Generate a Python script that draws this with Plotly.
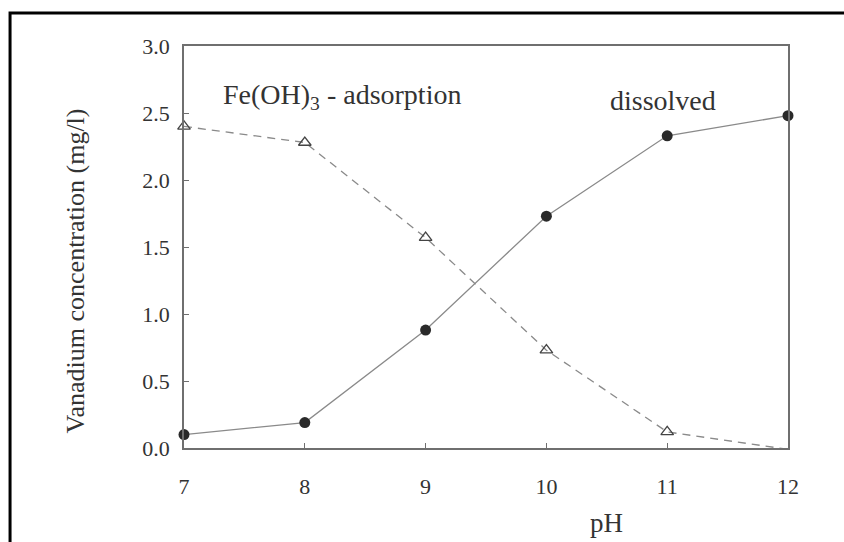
import plotly.graph_objects as go

ph = [7, 8, 9, 10, 11, 12]
dissolved = [0.10, 0.19, 0.88, 1.73, 2.33, 2.48]
adsorption = [2.40, 2.28, 1.57, 0.73, 0.12, -0.01]
x_ticks = [7, 8, 9, 10, 11, 12]
y_ticks = [0.0, 0.5, 1.0, 1.5, 2.0, 2.5, 3.0]
y_ticklabels = ["0.0", "0.5", "1.0", "1.5", "2.0", "2.5", "3.0"]

FONT = "Liberation Serif"
AX = "#6f6f6f"

fig = go.Figure()
fig.add_trace(go.Scatter(
    x=ph, y=adsorption, mode="lines+markers", name="Fe(OH)3 - adsorption",
    line=dict(color="#8a8a8a", width=1.3, dash="8px,6px"),
    marker=dict(symbol="triangle-up-open", size=11, color="#444444",
                line=dict(width=1.3, color="#444444")),
    cliponaxis=False,
))
fig.add_trace(go.Scatter(
    x=ph, y=dissolved, mode="lines+markers", name="dissolved",
    line=dict(color="#8a8a8a", width=1.3),
    marker=dict(symbol="circle", size=11, color="#2a2a2a"),
    cliponaxis=False,
))

fig.update_layout(
    width=844, height=542,
    margin=dict(l=184, r=56, t=46, b=94),
    paper_bgcolor="white", plot_bgcolor="white",
    showlegend=False,
    font=dict(family=FONT, color="#3a3a3a"),
    xaxis=dict(
        range=[7, 12], tickvals=x_ticks, ticktext=[str(v) for v in x_ticks],
        showgrid=False, zeroline=False,
        showline=True, linecolor=AX, linewidth=1.5, mirror=True,
        ticks="inside", ticklen=5, tickcolor=AX, tickwidth=1,
        tickfont=dict(family=FONT, size=22, color="#333333"),
        ticklabelstandoff=18,
    ),
    yaxis=dict(
        range=[0, 3.0], tickvals=y_ticks, ticktext=y_ticklabels,
        showgrid=False, zeroline=False,
        showline=True, linecolor=AX, linewidth=1.5, mirror=True,
        ticks="inside", ticklen=5, tickcolor=AX, tickwidth=1,
        tickfont=dict(family=FONT, size=22, color="#333333"),
        ticklabelstandoff=8,
    ),
    annotations=[
        dict(text="Fe(OH)<sub>3</sub> - adsorption", x=7.31, y=2.62,
             xref="x", yref="y", xanchor="left", yanchor="middle",
             showarrow=False, font=dict(family=FONT, size=28, color="#333333")),
        dict(text="dissolved", x=10.51, y=2.59,
             xref="x", yref="y", xanchor="left", yanchor="middle",
             showarrow=False, font=dict(family=FONT, size=28, color="#333333")),
        dict(text="pH", x=0.70, y=-0.187, xref="paper", yref="paper",
             xanchor="center", yanchor="middle", showarrow=False,
             font=dict(family=FONT, size=27, color="#333333")),
        dict(text="Vanadium concentration (mg/l)", x=-0.18, y=0.44,
             xref="paper", yref="paper", xanchor="center", yanchor="middle",
             textangle=-90, showarrow=False,
             font=dict(family=FONT, size=26, color="#333333")),
    ],
    shapes=[
        dict(type="rect", xref="paper", yref="paper",
             x0=-0.288, x1=1.103, y0=-0.254, y1=1.082,
             line=dict(color="black", width=3), fillcolor="rgba(0,0,0,0)",
             layer="above"),
    ],
)

fig.write_html("out.html")
